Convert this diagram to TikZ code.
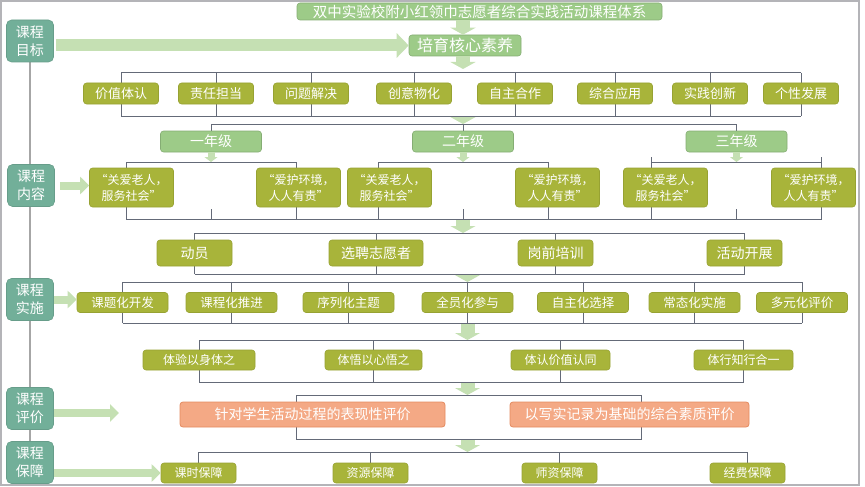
\documentclass[tikz,border=0pt]{standalone}
\usepackage{fontspec}
\setmainfont{Noto Sans CJK SC}
\usetikzlibrary{arrows.meta,backgrounds,calc}

\definecolor{tealfill}{HTML}{72AF99}
\definecolor{leafgreen}{HTML}{9DCB88}
\definecolor{olivefill}{HTML}{A8B43A}
\definecolor{olivedraw}{HTML}{97A233}
\definecolor{peachfill}{HTML}{F4A985}
\definecolor{peachdraw}{HTML}{E48A5F}
\definecolor{arrowgreen}{HTML}{C5E0B3}
\definecolor{linegrey}{HTML}{646A78}
\definecolor{framegrey}{HTML}{B4B4B8}

\begin{document}
\begin{tikzpicture}[x=1pt, y=-1pt]
\tikzset{txt/.style 2 args={font=\fontsize{#1}{#2}\selectfont},
box/.style={rectangle, rounded corners=3pt, inner sep=0pt, text=white, align=center},
tealbox/.style={box, fill=tealfill, draw=tealfill!90!black, line width=0.6pt, minimum width=47, minimum height=42, rounded corners=5pt, txt={14}{18}},
greenbox/.style={box, fill=leafgreen, draw=leafgreen!85!black, line width=0.6pt},
olivebox/.style={box, fill=olivefill, draw=olivedraw, line width=0.6pt},
peachbox/.style={box, fill=peachfill, draw=peachdraw, line width=0.8pt},
conn/.style={draw=linegrey, line width=1pt},
spine/.style={draw=gray!70, line width=1.2pt},
bigarrow/.style={draw=arrowgreen, line width=12pt, -{Triangle[length=12pt, width=24pt]}},
midarrow/.style={draw=arrowgreen, line width=8pt, -{Triangle[length=9pt, width=17pt]}},
levelarrow/.style={draw=arrowgreen, line width=14pt, -{Triangle[length=7pt, width=25pt]}},
gradearrow/.style={draw=arrowgreen, line width=7pt, -{Triangle[length=5pt, width=13pt]}}}

\useasboundingbox (0,0) rectangle (865,487);

%% Left column
\node (mGoal) [tealbox] at (30,41) {课程\\目标};
\node (mContent) [tealbox] at (31,185.5) {课程\\内容};
\node (mImpl) [tealbox] at (30,299.5) {课程\\实施};
\node (mEval) [tealbox] at (30,408.5) {课程\\评价};
\node (mGuar) [tealbox] at (30,462.5) {课程\\保障};

%% Title and goal
\node (title) [greenbox, minimum width=365, minimum height=17, txt={14.5}{16}] at (479.5,11.5) {双中实验校附小红领巾志愿者综合实践活动课程体系};
\node (core) [greenbox, minimum width=112, minimum height=21, txt={16}{18}] at (465,45.5) {培育核心素养};

%% Core literacies
\foreach \i/\x/\lab in {1/121/价值体认, 2/216/责任担当, 3/311/问题解决, 4/414/创意物化, 5/515/自主合作, 6/615/综合应用, 7/710/实践创新, 8/801/个性发展}
  \node (c\i) [olivebox, minimum width=75, minimum height=21, txt={13}{15}] at (\x,93.5) {\lab};

%% Grades
\foreach \i/\x/\lab in {1/211/一年级, 2/463/二年级, 3/736.5/三年级}
  \node (y\i) [greenbox, minimum width=101, minimum height=21, txt={14}{16}] at (\x,141.5) {\lab};

%% Contents
\foreach \i/\x/\lab in {1/131.5/{“关爱老人，\\服务社会”}, 2/298.5/{“爱护环境，\\人人有责”}, 3/389.5/{“关爱老人，\\服务社会”}, 4/557.5/{“爱护环境，\\人人有责”}, 5/665.5/{“关爱老人，\\服务社会”}, 6/813.5/{“爱护环境，\\人人有责”}}
  \node (k\i) [olivebox, minimum width=84, minimum height=39, txt={12}{16}] at (\x,187.5) {\lab};

%% Stages
\foreach \i/\x/\w/\lab in {1/194.5/75/动员, 2/376/94/选聘志愿者, 3/555.5/75/岗前培训, 4/744.5/75/活动开展}
  \node (s\i) [olivebox, minimum width=\w, minimum height=26, txt={14}{16}] at (\x,253) {\lab};

%% Implementation
\foreach \i/\x/\lab in {1/122.5/课题化开发, 2/231.5/课程化推进, 3/348.5/序列化主题, 4/467.5/全员化参与, 5/583/自主化选择, 6/694.5/常态化实施, 7/802/多元化评价}
  \node (p\i) [olivebox, minimum width=91, minimum height=20, txt={12.5}{15}] at (\x,302.5) {\lab};

%% Experience
\foreach \i/\x/\w/\lab in {1/199/112/体验以身体之, 2/373.5/97/体悟以心悟之, 3/560.5/99/体认价值认同, 4/743.5/99/体行知行合一}
  \node (e\i) [olivebox, minimum width=\w, minimum height=20, txt={12}{15}] at (\x,360) {\lab};

%% Evaluation
\node (v1) [peachbox, minimum width=265, minimum height=25, txt={14}{16}] at (312.5,414.5) {针对学生活动过程的表现性评价};
\node (v2) [peachbox, minimum width=239, minimum height=25, txt={14}{16}] at (629.5,414.5) {以写实记录为基础的综合素质评价};

%% Guarantee
\foreach \i/\x/\lab in {1/198.5/课时保障, 2/370.5/资源保障, 3/559.5/师资保障, 4/747.5/经费保障}
  \node (b\i) [olivebox, minimum width=75, minimum height=20, txt={12}{15}] at (\x,473) {\lab};

%% Bracket levels
\coordinate (cTop) at (0,73); \coordinate (cBot) at (0,116);
\coordinate (yTop) at (0,124);
\coordinate (kTop) at (0,162); \coordinate (kBot) at (0,219);
\coordinate (sTop) at (0,233); \coordinate (sBot) at (0,274);
\coordinate (pTop) at (0,282); \coordinate (pBot) at (0,323);
\coordinate (eTop) at (0,340); \coordinate (eBot) at (0,382);
\coordinate (vTop) at (0,395); \coordinate (vBot) at (0,439);
\coordinate (bTop) at (0,452);
\coordinate (evalEnd) at (119,413);

%% Edges
\begin{scope}[on background layer]
\draw[draw=framegrey, line width=1.5pt] (1,1) rectangle (859,485);
\draw[spine] (mGoal) -- (mGuar);
\draw[conn] (c1 |- cTop) -- (c8 |- cTop);
\draw[conn] (c1 |- cBot) -- (c8 |- cBot);
\foreach \i in {1,...,8} \draw[conn] (c\i |- cTop) -- (c\i |- cBot);
\draw[conn] (y1 |- yTop) -- (y3 |- yTop);
\foreach \i in {1,2,3} \draw[conn] (y\i |- yTop) -- (y\i);
\foreach \i in {1,2,3} {
  \draw[conn] ($(y\i |- kTop)+(-85,0)$) coordinate (kl\i) -- ($(y\i |- kTop)+(85,0)$) coordinate (kr\i);
  \draw[conn] (kl\i) -- (kl\i |- kBot);
  \draw[conn] (kr\i) -- (kr\i |- kBot);
  \draw[conn] (y\i |- kBot) -- ++(0,-10);
}
\draw[conn] (kl1 |- kBot) -- (kr3 |- kBot);
\draw[conn] (kl3) -- ++(0,-5);
\draw[conn] (kr3) -- ++(0,-5);
\draw[conn] (s1 |- sTop) -- (s4 |- sTop);
\draw[conn] (s1 |- sBot) -- (s4 |- sBot);
\foreach \i in {1,...,4} \draw[conn] (s\i |- sTop) -- (s\i |- sBot);
\draw[conn] (p1 |- pTop) -- (p7 |- pTop);
\draw[conn] (p1 |- pBot) -- (p7 |- pBot);
\foreach \i in {1,...,7} \draw[conn] (p\i |- pTop) -- (p\i |- pBot);
\draw[conn] (e1 |- eTop) -- (e4 |- eTop);
\draw[conn] (e1 |- eBot) -- (e4 |- eBot);
\foreach \i in {1,...,4} \draw[conn] (e\i |- eTop) -- (e\i |- eBot);
\draw[conn] ($(v1 |- vTop)+(-16,0)$) coordinate (vl) -- ($(v2 |- vTop)+(12,0)$) coordinate (vr);
\draw[conn] (vl) -- (vl |- vBot) -- (vr |- vBot) -- (vr);
\draw[conn] (b1 |- bTop) -- (b4 |- bTop);
\foreach \i in {1,...,4} \draw[conn] (b\i |- bTop) -- (b\i);
\end{scope}

%% Arrows
\draw[levelarrow] (title.south -| y2) -- (core.north -| y2);
\draw[bigarrow, shorten <=2pt] (mGoal.east |- core) -- (core.west);
\draw[levelarrow, shorten >=4pt] (core.south -| y2) -- (y2 |- cTop);
\draw[levelarrow, shorten <=1pt] (y2 |- cBot) -- (y2 |- yTop);
\foreach \i in {1,2,3} \draw[gradearrow] (y\i) -- (y\i |- kTop);
\draw[levelarrow, shorten <=1pt] (y2 |- kBot) -- (y2 |- sTop);
\draw[levelarrow, shorten <=1pt] (p4 |- sBot) -- (p4 |- pTop);
\draw[levelarrow, shorten <=1pt] (p4 |- pBot) -- (p4 |- eTop);
\draw[levelarrow, shorten <=1pt] (p4 |- eBot) -- (p4 |- vTop);
\draw[levelarrow, shorten <=1pt] (p4 |- vBot) -- (p4 |- bTop);
\draw[midarrow, shorten <=5pt] (mContent) -- (mContent -| k1.west);
\draw[midarrow] (mImpl) -- (mImpl -| p1.west);
\draw[midarrow] (mEval.east |- evalEnd) -- (evalEnd);
\draw[midarrow] (mGuar.east |- b1) -- (b1.west);

\end{tikzpicture}
\end{document}
